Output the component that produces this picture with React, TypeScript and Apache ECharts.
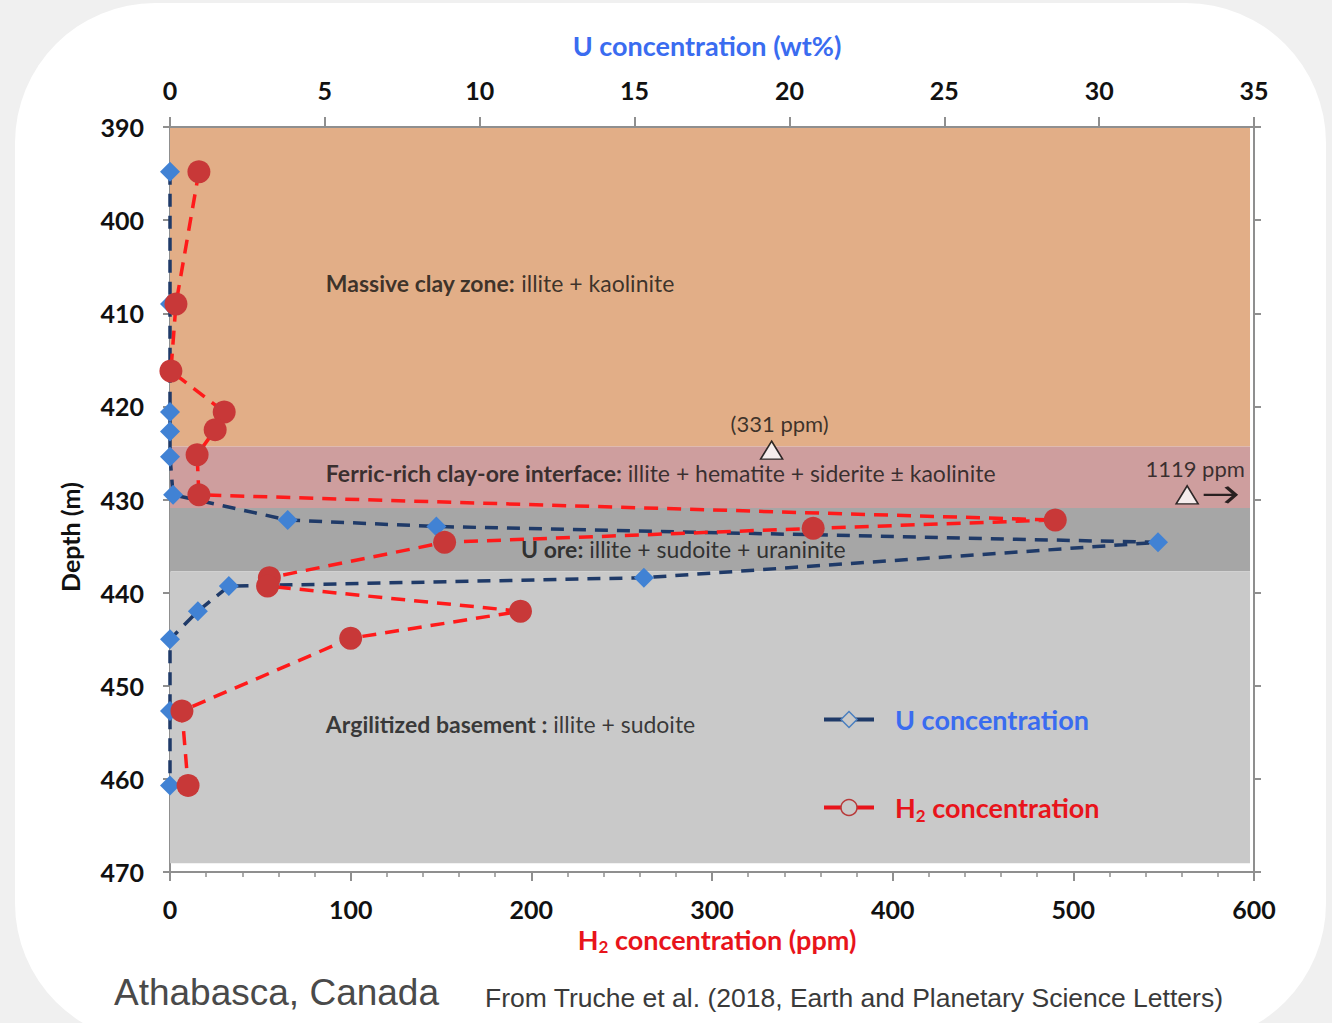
import React, { useEffect, useRef } from 'react';
import * as echarts from 'echarts';

// ---- Data ----
const uDepths = [394.8, 409.0, 420.6, 422.7, 425.4, 429.5, 432.2, 432.9, 434.6, 438.4, 439.3, 442.0, 445.0, 452.7, 460.7];
const uValues = [0, 0, 0, 0, 0, 0.1, 3.8, 8.6, 31.9, 15.3, 1.9, 0.9, 0, 0, 0];

const h2Depths = [394.8, 409.0, 416.2, 420.6, 422.5, 425.2, 429.5, 432.2, 433.1, 434.6, 438.4, 439.3, 442.0, 444.9, 452.7, 460.7];
const h2Values = [16, 3.3, 0.5, 30, 25, 15, 16, 490, 356, 152, 55, 54, 194, 100, 6.6, 10];

const zoneNames = ['Massive clay zone:', 'Ferric-rich clay-ore interface:', 'U ore:', 'Argilitized basement :'];
const zoneMinerals = [' illite + kaolinite', ' illite + hematite + siderite ± kaolinite', ' illite + sudoite + uraninite', ' illite + sudoite'];
const zoneTop = [390.1, 424.3, 430.9, 437.7];
const zoneBottom = [424.3, 430.9, 437.7, 469.05];
const zoneColors = ['#E2AE87', '#CE9E9E', '#A6A6A6', '#C9C9C9'];
const zoneLabelPpm = [86, 86, 194, 86];
const zoneLabelDepth = [406.8, 427.2, 435.3, 454.1];

const offscaleH2 = [333, 563];
const offscaleDepth = [424.7, 429.5];
const offscaleText = ['(331 ppm)', '1119 ppm'];
const arrowH2 = [581];
const arrowDepth = [429.5];

const FONT = 'Lato';

export default function App() {
  const ref = useRef<HTMLDivElement>(null);

  useEffect(() => {
    if (!ref.current) return;
    const chart = echarts.init(ref.current, null, { renderer: 'svg' });

    const axisGrey = '#8f8f8f';
    const tickLabel = { fontFamily: FONT, fontWeight: 'bold' as const, fontSize: 25, color: '#111' };

    const option: any = {
      animation: false,
      grid: { left: 170, top: 127, width: 1084, height: 745 },
      xAxis: [
        {
          type: 'value', position: 'bottom', min: 0, max: 600, interval: 100,
          axisLine: { show: true, onZero: false, lineStyle: { color: axisGrey, width: 2 } },
          axisTick: { show: true, length: 9, lineStyle: { color: axisGrey, width: 2 } },
          minorTick: { show: true, splitNumber: 5, length: 5, lineStyle: { color: axisGrey, width: 1.5 } },
          splitLine: { show: false },
          axisLabel: { ...tickLabel, margin: 24 },
          name: '{h|H}{s|2}{h| concentration (ppm)}',
          nameLocation: 'middle', nameGap: 49,
          nameTextStyle: {
            padding: [0, 0, 0, 10],
            rich: {
              h: { fontFamily: FONT, fontWeight: 'bold', fontSize: 27, color: '#E8141B', lineHeight: 32 },
              s: { fontFamily: FONT, fontWeight: 'bold', fontSize: 17, color: '#E8141B', lineHeight: 13, verticalAlign: 'bottom' },
            },
          },
        },
        {
          type: 'value', position: 'top', min: 0, max: 35, interval: 5,
          axisLine: { show: true, onZero: false, lineStyle: { color: axisGrey, width: 2 } },
          axisTick: { show: true, length: 10, lineStyle: { color: axisGrey, width: 2 } },
          splitLine: { show: false },
          axisLabel: { ...tickLabel, margin: 25 },
          name: 'U concentration (wt%)',
          nameLocation: 'middle', nameGap: 68,
          nameTextStyle: { fontFamily: FONT, fontWeight: 'bold', fontSize: 27, color: '#3A6CF0', padding: [0, 10, 0, 0] },
        },
      ],
      yAxis: [
        {
          type: 'value', inverse: true, min: 390, max: 470, interval: 10,
          axisLine: { show: true, onZero: false, lineStyle: { color: axisGrey, width: 2 } },
          axisTick: { show: true, length: 7, lineStyle: { color: axisGrey, width: 2 } },
          splitLine: { show: false },
          axisLabel: { ...tickLabel, margin: 26 },
        },
        {
          type: 'value', position: 'right', inverse: true, min: 390, max: 470, interval: 10,
          axisLine: { show: true, onZero: false, lineStyle: { color: axisGrey, width: 2 } },
          axisTick: { show: true, length: 7, lineStyle: { color: axisGrey, width: 2 } },
          splitLine: { show: false },
          axisLabel: { show: false },
        },
      ],
      legend: {
        orient: 'vertical', left: 822, top: 706, padding: 0, itemWidth: 50, itemHeight: 20, itemGap: 61,
        data: [
          {
            name: 'U concentration',
            itemStyle: { color: '#C9C9C9', borderColor: '#4A7FC0', borderWidth: 1.5 },
            lineStyle: { type: 'solid', width: 4, color: '#1F3A68' },
          },
          {
            name: 'H2 concentration',
            itemStyle: { color: '#C9C9C9', borderColor: '#B83A3A', borderWidth: 1.5 },
            lineStyle: { type: 'solid', width: 4, color: '#E8141B' },
          },
        ],
        formatter: (name: string) => name === 'U concentration'
          ? '{u|U concentration}'
          : '{h|H}{s|2}{h| concentration}',
        textStyle: {
          padding: [0, 0, 0, 16],
          rich: {
            u: { fontFamily: FONT, fontWeight: 'bold', fontSize: 27, color: '#3A6CF0', lineHeight: 32 },
            h: { fontFamily: FONT, fontWeight: 'bold', fontSize: 27, color: '#E8141B', lineHeight: 32 },
            s: { fontFamily: FONT, fontWeight: 'bold', fontSize: 17, color: '#E8141B', lineHeight: 13, verticalAlign: 'bottom' },
          },
        },
      },
      series: [
        {
          name: 'zones', type: 'line', xAxisIndex: 0, yAxisIndex: 0, data: [], silent: true,
          markArea: {
            silent: true,
            data: zoneTop.map((t, i) => [
              { xAxis: 0, yAxis: t, itemStyle: { color: zoneColors[i] } },
              { xAxis: 597.8, yAxis: zoneBottom[i] },
            ]),
          },
        },
        {
          name: 'zone labels', type: 'scatter', xAxisIndex: 0, yAxisIndex: 0, silent: true,
          symbolSize: 1, itemStyle: { color: 'rgba(0,0,0,0)' },
          data: zoneNames.map((n, i) => ({ value: [zoneLabelPpm[i], zoneLabelDepth[i]], name: n, minerals: zoneMinerals[i] })),
          label: {
            show: true, position: 'right', distance: 0,
            formatter: (p: any) => `{b|${p.data.name}}{n|${p.data.minerals}}`,
            rich: {
              b: { fontFamily: FONT, fontWeight: 'bold', fontSize: 23, color: '#111' },
              n: { fontFamily: FONT, fontSize: 23, color: '#111' },
            },
          },
        },
        {
          name: 'U concentration', type: 'line', xAxisIndex: 1, yAxisIndex: 0,
          data: uDepths.map((d, i) => [uValues[i], d]),
          symbol: 'diamond', symbolSize: 20,
          itemStyle: { color: '#4182D4' },
          lineStyle: { color: '#1F3A68', width: 3.5, type: [13, 9] },
          z: 3,
        },
        {
          name: 'H2 concentration', type: 'line', xAxisIndex: 0, yAxisIndex: 0,
          data: h2Depths.map((d, i) => [h2Values[i], d]),
          symbol: 'circle', symbolSize: 23,
          itemStyle: { color: '#C83838' },
          lineStyle: { color: '#FF1A1A', width: 3.5, type: [14, 9] },
          z: 4,
        },
        {
          name: 'off-scale', type: 'scatter', xAxisIndex: 0, yAxisIndex: 0, silent: true,
          data: offscaleH2.map((v, i) => ({ value: [v, offscaleDepth[i]], name: offscaleText[i] })),
          symbol: 'triangle', symbolSize: [22, 18],
          itemStyle: { color: '#FFFFFF', borderColor: '#000', borderWidth: 1.5 },
          label: {
            show: true, position: 'top', distance: 6, offset: [8, 0],
            formatter: (p: any) => p.data.name,
            fontFamily: FONT, fontSize: 22, color: '#111',
          },
          z: 5,
        },
        {
          name: 'arrow', type: 'scatter', xAxisIndex: 0, yAxisIndex: 0, silent: true,
          data: arrowH2.map((v, i) => [v, arrowDepth[i]]),
          symbol: 'path://M0,10 L34,10 M24,1 L34,10 L24,19', symbolSize: [32, 16],
          itemStyle: { color: 'rgba(0,0,0,0)', borderColor: '#000', borderWidth: 3 },
          z: 5,
        },
      ],
      graphic: [
        {
          type: 'text', x: 70, y: 537, rotation: Math.PI / 2,
          style: { text: 'Depth (m)', fontFamily: FONT, fontWeight: 'bold', fontSize: 25, fill: '#111', align: 'center', verticalAlign: 'middle' },
        },
        {
          type: 'text', x: 114, y: 992,
          style: { text: 'Athabasca, Canada', fontFamily: 'Liberation Sans', fontSize: 37, fill: '#4A4A4A', align: 'left', verticalAlign: 'middle' },
        },
        {
          type: 'text', x: 485, y: 998,
          style: { text: 'From Truche et al. (2018, Earth and Planetary Science Letters)', fontFamily: 'Liberation Sans', fontSize: 26.5, fill: '#3A3A3A', align: 'left', verticalAlign: 'middle' },
        },
      ],
    };

    chart.setOption(option);
    return () => chart.dispose();
  }, []);

  return (
    <div style={{ position: 'absolute', left: 0, top: 0, width: 1332, height: 1023, overflow: 'hidden', background: '#F0F0F0' }}>
      <div style={{ position: 'absolute', left: 15, top: 3, width: 1311, height: 1040, borderRadius: 140, background: '#FFFFFF' }} />
      <div ref={ref} style={{ position: 'absolute', left: 0, top: 0, width: 1332, height: 1023 }} />
    </div>
  );
}
